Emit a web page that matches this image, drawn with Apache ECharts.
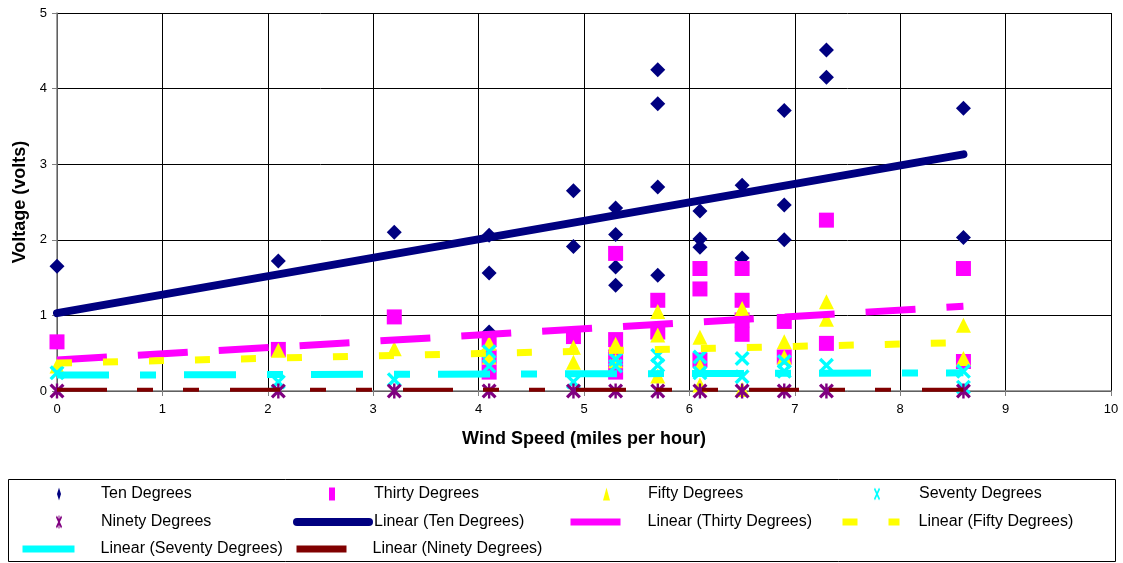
<!DOCTYPE html>
<html><head><meta charset="utf-8">
<script src="https://cdn.jsdelivr.net/npm/echarts@6/dist/echarts.min.js"></script>
<style>html,body{margin:0;padding:0;background:#fff}#c{width:1123px;height:563px}</style>
</head><body><div id="c"></div>
<script>
// ---- data (wind speed mph, voltage volts) ----
const tenDegrees = [[0,1.65],[2.1,1.72],[3.2,2.10],[4.1,2.06],[4.1,1.56],[4.1,0.78],[4.9,2.65],[4.9,1.91],
  [5.3,2.42],[5.3,2.07],[5.3,1.64],[5.3,1.40],[5.7,4.25],[5.7,3.80],[5.7,2.70],[5.7,1.53],
  [6.1,2.38],[6.1,2.01],[6.1,1.90],[6.5,2.72],[6.5,1.76],[6.9,3.71],[6.9,2.46],[6.9,2.00],
  [7.3,4.51],[7.3,4.15],[8.6,3.74],[8.6,2.03]];
const thirtyDegrees = [[0,0.65],[2.1,0.55],[3.2,0.98],[4.1,0.68],[4.1,0.45],[4.1,0.25],[4.9,0.72],
  [5.3,1.82],[5.3,0.68],[5.3,0.45],[5.3,0.25],[5.7,1.20],[5.7,0.78],[6.1,1.62],[6.1,1.35],[6.1,0.41],
  [6.5,1.62],[6.5,1.20],[6.5,0.94],[6.5,0.75],[6.9,0.92],[6.9,0.45],[7.3,2.26],[7.3,0.63],[8.6,1.62],[8.6,0.39]];
const fiftyDegrees = [[0,0.33],[2.1,0.54],[3.2,0.56],[4.1,0.63],[4.1,0.45],[4.9,0.58],[4.9,0.38],
  [5.3,0.62],[5.3,0.40],[5.7,1.05],[5.7,0.74],[5.7,0.20],[6.1,0.71],[6.1,0.33],[6.1,0.08],
  [6.5,1.09],[6.5,0.02],[6.9,0.65],[6.9,0.45],[7.3,1.18],[7.3,0.95],[8.6,0.87],[8.6,0.43]];
const seventyDegrees = [[0,0.24],[2.1,0.12],[3.2,0.15],[4.1,0.52],[4.1,0.33],[4.9,0.12],[5.3,0.42],[5.3,0.33],
  [5.7,0.47],[5.7,0.34],[6.1,0.45],[6.1,0.24],[6.5,0.43],[6.5,0.19],[6.9,0.39],[6.9,0.26],[7.3,0.34],[8.6,0.26],[8.6,0.05]];
const ninetyDegrees = [[0,0],[2.1,0],[3.2,0],[4.1,0],[4.9,0],[5.3,0],[5.7,0],[6.1,0],[6.5,0],[6.9,0],[7.3,0],[8.6,0]];

// trendline end points
const trendTen = [[0,1.03],[8.6,3.13]];
const trendThirty = [[0,0.41],[8.6,1.12]];
const trendFifty = [[0,0.37],[8.6,0.64]];
const trendSeventy = [[0,0.21],[8.6,0.24]];
const trendNinety = [[0,0.015],[8.6,0.015]];

const xAxisTitle = 'Wind Speed (miles per hour)';
const yAxisTitle = 'Voltage (volts)';

// ---- styling ----
const FONT = '"Liberation Sans", Arial, sans-serif';
const X_PATH = 'path://M0 3.2L3.2 0L20 16.8L16.8 20Z M16.8 0L20 3.2L3.2 20L0 16.8Z';
const STAR_PATH = 'path://M0 3L3 0L20 17L17 20Z M17 0L20 3L3 20L0 17Z M8.4 0L11.6 0L11.6 20L8.4 20Z';

function scatter(name, data, color, symbol, size) {
  return {name, type:'scatter', data, symbol, symbolSize:size, itemStyle:{color, opacity:1},
    emphasis:{disabled:true}, z:2};
}
function trend(name, data, color, width, type, cap) {
  return {name, type:'line', data, symbol:'none', showSymbol:false, silent:true, z:3,
    lineStyle:{color, width, type, cap: cap || 'butt'}, itemStyle:{color}, emphasis:{disabled:true}};
}

const series = [
  scatter('Ten Degrees', tenDegrees, '#000080', 'diamond', 15),
  scatter('Thirty Degrees', thirtyDegrees, '#FF00FF', 'rect', 15),
  scatter('Fifty Degrees', fiftyDegrees, '#FFFF00', 'triangle', 15),
  scatter('Seventy Degrees', seventyDegrees, '#00FFFF', X_PATH, 15),
  scatter('Ninety Degrees', ninetyDegrees, '#800080', STAR_PATH, 15),
  trend('Linear (Ten Degrees)', trendTen, '#000080', 8, 'solid', 'round'),
  trend('Linear (Thirty Degrees)', trendThirty, '#FF00FF', 7, [50,31]),
  trend('Linear (Fifty Degrees)', trendFifty, '#FFFF00', 7, [15,31]),
  trend('Linear (Seventy Degrees)', trendSeventy, '#00FFFF', 7, [52,31,16,28]),
  trend('Linear (Ninety Degrees)', trendNinety, '#800000', 4, [50,30,16,30,16,31])
];

// legend layout: [name, left, rowCenterY, itemWidth, textPad, lineWidth]
const legendLayout = [
  ['Ten Degrees', 57, 495, 4, 35, 0],
  ['Thirty Degrees', 329, 495, 6, 34, 0],
  ['Fifty Degrees', 603, 495, 7, 33, 0],
  ['Seventy Degrees', 874, 495, 6, 34, 0],
  ['Ninety Degrees', 56, 523, 6, 34, 0],
  ['Linear (Ten Degrees)', 293, 523, 72, 0, 8],
  ['Linear (Thirty Degrees)', 567, 523, 53, 19, 7],
  ['Linear (Fifty Degrees)', 839, 523, 57, 14, 7],
  ['Linear (Seventy Degrees)', 19, 550, 54, 19, 7],
  ['Linear (Ninety Degrees)', 293, 550, 53, 18, 7]
];
const legends = legendLayout.map(([name, left, cy, w, pad, lw]) => {
  const l = {data:[name], left, top: cy - 9, itemWidth: w, itemHeight: 13, padding: 0,
    symbolKeepAspect: false, selectedMode: false,
    textStyle: {fontFamily: FONT, fontSize: 16, color: '#000', padding: [0,0,0,pad]}};
  if (lw) {
    l.lineStyle = {width: lw};
    l.itemStyle = {opacity: 0, borderWidth: 0};
  }
  return l;
});

const chart = echarts.init(document.getElementById('c'), null, {renderer:'canvas'});
chart.setOption({
  animation: false,
  backgroundColor: '#fff',
  grid: {left: 57, right: 12, top: 13, bottom: 172, containLabel: false},
  xAxis: {
    type: 'value', min: 0, max: 10, interval: 1,
    name: xAxisTitle, nameLocation: 'middle', nameGap: 39,
    nameTextStyle: {fontFamily: FONT, fontSize: 18, fontWeight: 'bold', color: '#000'},
    axisLine: {show: true, onZero: false, lineStyle: {color: '#808080', width: 1.5}},
    axisTick: {show: true, length: 5, lineStyle: {color: '#808080'}},
    axisLabel: {fontFamily: FONT, fontSize: 13, color: '#000', margin: 12},
    splitLine: {show: true, lineStyle: {color: '#000', width: 1}}
  },
  yAxis: {
    type: 'value', min: 0, max: 5, interval: 1,
    name: yAxisTitle, nameLocation: 'middle', nameGap: 28, nameRotate: 90,
    nameTextStyle: {fontFamily: FONT, fontSize: 18, fontWeight: 'bold', color: '#000'},
    axisLine: {show: true, onZero: false, lineStyle: {color: '#808080', width: 1.5}},
    axisTick: {show: true, length: 5, lineStyle: {color: '#808080'}},
    axisLabel: {fontFamily: FONT, fontSize: 13, color: '#000', margin: 10},
    splitLine: {show: true, lineStyle: {color: '#000', width: 1}}
  },
  legend: legends,
  graphic: [{type: 'rect', shape: {x: 8.5, y: 479.5, width: 1107, height: 82},
    style: {fill: 'none', stroke: '#000', lineWidth: 1}, z: -1, silent: true}],
  series
});
</script></body></html>
